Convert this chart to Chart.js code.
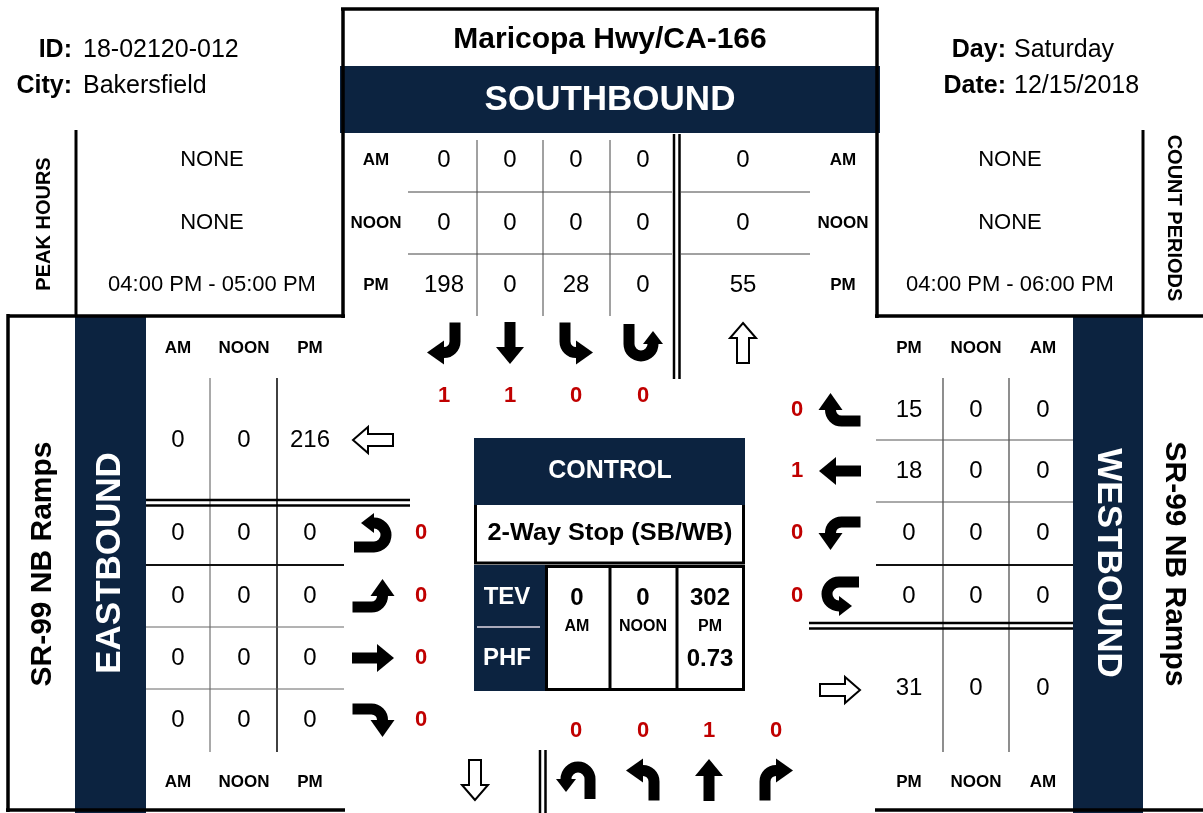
<!DOCTYPE html>
<html>
<head>
<meta charset="utf-8">
<title>Maricopa Hwy/CA-166 - Turning Movement Counts</title>
<script src="https://cdn.jsdelivr.net/npm/chart.js@4.4.1/dist/chart.umd.min.js"></script>
<style>
  html, body { margin: 0; padding: 0; background: #fff; }
  #wrap { width: 1203px; height: 813px; }
</style>
</head>
<body>
<div id="wrap"><canvas id="myChart"></canvas></div>
<script>
var periods = ["AM", "NOON", "PM"];

// southbound approach: right, thru, left, u-turn
var sbAM = [0, 0, 0, 0];
var sbNoon = [0, 0, 0, 0];
var sbPM = [198, 0, 28, 0];
var sbLanes = [1, 1, 0, 0];
var nbDepart = [0, 0, 55];

// eastbound approach: u-turn, left, thru, right
var ebAM = [0, 0, 0, 0];
var ebNoon = [0, 0, 0, 0];
var ebPM = [0, 0, 0, 0];
var ebLanes = [0, 0, 0, 0];
var wbDepart = [0, 0, 216];

// westbound approach: right, thru, left, u-turn
var wbAM = [0, 0, 0, 0];
var wbNoon = [0, 0, 0, 0];
var wbPM = [15, 18, 0, 0];
var wbLanes = [0, 1, 0, 0];
var ebDepart = [0, 0, 31];

// northbound approach: u-turn, left, thru, right
var nbLanes = [0, 0, 1, 0];

var tev = [0, 0, 302];
var phf = ["", "", "0.73"];
var peakHours = ["NONE", "NONE", "04:00 PM - 05:00 PM"];
var countPeriods = ["NONE", "NONE", "04:00 PM - 06:00 PM"];

var NAVY = "#0c2340";
var RED = "#c00000";
var FONT = "'Liberation Sans', Arial, sans-serif";

function B(size) { return "bold " + size + "px " + FONT; }
function R(size) { return size + "px " + FONT; }

var tmcPlugin = {
  id: "tmc",
  afterDraw: function(chart) {
    var ctx = chart.ctx;
    var xs = chart.scales.x, ys = chart.scales.y;
    function X(v) { return xs.getPixelForValue(v); }
    function Y(v) { return ys.getPixelForValue(v); }

    function txt(s, x, y, font, color, align, rot, sx) {
      ctx.save();
      ctx.translate(X(x), Y(y));
      if (rot) ctx.rotate(rot);
      if (sx) ctx.scale(sx, 1);
      ctx.font = font;
      ctx.fillStyle = color || "#000";
      ctx.textAlign = align || "center";
      ctx.textBaseline = "middle";
      ctx.fillText(String(s), 0, 0);
      ctx.restore();
    }
    function line(x1, y1, x2, y2, w, color) {
      ctx.save();
      ctx.beginPath();
      ctx.moveTo(X(x1), Y(y1));
      ctx.lineTo(X(x2), Y(y2));
      ctx.lineWidth = w;
      ctx.strokeStyle = color || "#000";
      ctx.stroke();
      ctx.restore();
    }
    function rect(x1, y1, x2, y2, color) {
      ctx.fillStyle = color;
      ctx.fillRect(X(x1), Y(y1), X(x2) - X(x1), Y(y2) - Y(y1));
    }
    function tri(a, b, c, d, e, f) {
      ctx.beginPath();
      ctx.moveTo(a, b); ctx.lineTo(c, d); ctx.lineTo(e, f);
      ctx.closePath();
      ctx.fill();
    }
    // movement arrow, drawn for a vehicle heading up, then rotated
    function arrow(type, x, y, angle) {
      ctx.save();
      ctx.translate(X(x), Y(y));
      ctx.rotate(angle);
      ctx.fillStyle = "#000";
      ctx.strokeStyle = "#000";
      ctx.lineWidth = 11;
      ctx.lineCap = "butt";
      if (type == "T") {
        ctx.fillRect(-5.5, -4, 11, 25);
        tri(-14, -4, 14, -4, 0, -21);
      } else if (type == "L" || type == "R") {
        if (type == "R") ctx.scale(-1, 1);
        ctx.translate(1, 2.5);
        ctx.beginPath();
        ctx.moveTo(10, 18);
        ctx.lineTo(10, -1);
        ctx.arc(-1, -1, 11, 0, -Math.PI / 2, true);
        ctx.stroke();
        tri(-1, -24, -1, 0, -18, -12);
      } else {
        ctx.translate(2, -1);
        ctx.beginPath();
        ctx.moveTo(12, 20);
        ctx.lineTo(12, 0);
        ctx.arc(0, 0, 12, 0, -Math.PI, true);
        ctx.stroke();
        tri(-22, 0, -2, 0, -12, 13);
      }
      ctx.restore();
    }
    function hollow(x, y, angle) {
      ctx.save();
      ctx.translate(X(x), Y(y));
      ctx.rotate(angle);
      ctx.beginPath();
      ctx.moveTo(0, -20);
      ctx.lineTo(13, -5);
      ctx.lineTo(6, -5);
      ctx.lineTo(6, 20);
      ctx.lineTo(-6, 20);
      ctx.lineTo(-6, -5);
      ctx.lineTo(-13, -5);
      ctx.closePath();
      ctx.fillStyle = "#fff";
      ctx.fill();
      ctx.lineWidth = 2;
      ctx.strokeStyle = "#000";
      ctx.stroke();
      ctx.restore();
    }

    var UP = 0, DOWN = Math.PI, EAST = Math.PI / 2, WEST = -Math.PI / 2;

    // navy bands
    rect(340, 66, 880, 133, NAVY);
    rect(75, 316, 146, 813, NAVY);
    rect(1073, 316, 1143, 813, NAVY);

    // frame
    line(341, 9, 879, 9, 3.5);
    line(343, 8, 343, 318, 3.5);
    line(877, 8, 877, 318, 3.5);
    line(8, 316, 345, 316, 3.5);
    line(875, 316, 1203, 316, 3.5);
    line(8, 314, 8, 812, 3.5);
    line(6, 810, 345, 810, 3.5);
    line(875, 810, 1203, 810, 3.5);
    line(76, 130, 76, 316, 3);
    line(1143, 130, 1143, 316, 3);

    // header
    txt("ID:", 72, 50, B(25), "#000", "right");
    txt("18-02120-012", 83, 50, R(25), "#000", "left");
    txt("City:", 72, 86, B(25), "#000", "right");
    txt("Bakersfield", 83, 86, R(25), "#000", "left");
    txt("Day:", 1006, 50, B(25), "#000", "right");
    txt("Saturday", 1014, 50, R(25), "#000", "left");
    txt("Date:", 1006, 86, B(25), "#000", "right");
    txt("12/15/2018", 1014, 86, R(25), "#000", "left");
    txt("Maricopa Hwy/CA-166", 610, 40, B(30));
    txt("SOUTHBOUND", 610, 100, B(35), "#fff");

    txt("PEAK HOURS", 44, 224, B(20), "#000", "center", -Math.PI / 2);
    txt("COUNT PERIODS", 1174, 218, B(20), "#000", "center", Math.PI / 2);

    var rowY = [160, 223, 285];
    for (var i = 0; i < 3; i++) {
      txt(peakHours[i], 212, rowY[i], R(22));
      txt(countPeriods[i], 1010, rowY[i], R(22));
      txt(periods[i], 376, rowY[i], B(17));
      txt(periods[i], 843, rowY[i], B(17));
    }

    // southbound table
    var sbRows = [sbAM, sbNoon, sbPM];
    var sbX = [444, 510, 576, 643];
    for (var r = 0; r < 3; r++) {
      for (var c = 0; c < 4; c++) txt(sbRows[r][c], sbX[c], rowY[r], R(24));
      txt(nbDepart[r], 743, rowY[r], R(24));
    }
    [477, 543, 610].forEach(function(x) { line(x, 140, x, 316, 1, "#444"); });
    [192, 254].forEach(function(y) {
      line(408, y, 672, y, 1, "#444");
      line(681, y, 810, y, 1, "#444");
    });
    line(674, 134, 674, 379, 2.5);
    line(679.5, 134, 679.5, 379, 2.5);
    var sbTypes = ["R", "T", "L", "U"];
    for (var k = 0; k < 4; k++) {
      arrow(sbTypes[k], sbX[k], 343, DOWN);
      txt(sbLanes[k], sbX[k], 396, B(22), RED);
    }
    hollow(743, 343, UP);

    // eastbound table
    var ebX = [178, 244, 310];
    for (var j = 0; j < 3; j++) {
      txt(periods[j], ebX[j], 348, B(17));
      txt(periods[j], ebX[j], 782, B(17));
      txt(wbDepart[j], ebX[j], 440, R(24));
    }
    var ebY = [533, 596, 658, 720];
    var ebTypes = ["U", "L", "T", "R"];
    for (var m = 0; m < 4; m++) {
      txt(ebAM[m], ebX[0], ebY[m], R(24));
      txt(ebNoon[m], ebX[1], ebY[m], R(24));
      txt(ebPM[m], ebX[2], ebY[m], R(24));
      arrow(ebTypes[m], 373, ebY[m], EAST);
      txt(ebLanes[m], 421, ebY[m], B(22), RED);
    }
    line(210, 378, 210, 752, 1, "#555");
    line(277, 378, 277, 752, 1.6, "#111");
    line(146, 565, 344, 565, 2, "#111");
    line(146, 627, 344, 627, 1, "#666");
    line(146, 689, 344, 689, 1, "#666");
    line(146, 500, 410, 500, 2.5);
    line(146, 505.5, 410, 505.5, 2.5);
    hollow(373, 440, WEST);

    // westbound table (PM, NOON, AM from left)
    var wbX = [909, 976, 1043];
    var wbHead = [periods[2], periods[1], periods[0]];
    for (var n = 0; n < 3; n++) {
      txt(wbHead[n], wbX[n], 348, B(17));
      txt(wbHead[n], wbX[n], 782, B(17));
      txt(ebDepart[2 - n], wbX[n], 688, R(24));
    }
    var wbY = [410, 471, 533, 596];
    var wbTypes = ["R", "T", "L", "U"];
    for (var q = 0; q < 4; q++) {
      txt(wbPM[q], wbX[0], wbY[q], R(24));
      txt(wbNoon[q], wbX[1], wbY[q], R(24));
      txt(wbAM[q], wbX[2], wbY[q], R(24));
      arrow(wbTypes[q], 840, wbY[q], WEST);
      txt(wbLanes[q], 797, wbY[q], B(22), RED);
    }
    line(943, 378, 943, 752, 1.2, "#444");
    line(1009, 378, 1009, 752, 1.2, "#444");
    line(876, 440, 1073, 440, 1, "#555");
    line(876, 502, 1073, 502, 1, "#555");
    line(876, 565, 1073, 565, 2, "#111");
    line(809, 623, 1073, 623, 2.5);
    line(809, 628.5, 1073, 628.5, 2.5);
    hollow(840, 690, EAST);

    // northbound approach
    var nbX = [576, 643, 709, 776];
    var nbTypes = ["U", "L", "T", "R"];
    for (var p = 0; p < 4; p++) {
      arrow(nbTypes[p], nbX[p], 780, UP);
      txt(nbLanes[p], nbX[p], 731, B(22), RED);
    }
    line(540, 750, 540, 813, 2.5);
    line(545.5, 750, 545.5, 813, 2.5);
    hollow(475, 780, DOWN);

    // control box
    rect(474, 438, 745, 505, NAVY);
    txt("CONTROL", 610, 471, B(25), "#fff");
    line(475.5, 505, 475.5, 563, 3);
    line(743.5, 505, 743.5, 563, 3);
    line(474, 563, 745, 563, 3);
    txt("2-Way Stop (SB/WB)", 610, 534, B(23), "#000", "center", 0, 1.1);
    rect(474, 565, 547, 691, NAVY);
    line(477, 627, 540, 627, 2, "#aab");
    txt("TEV", 507, 597, B(24), "#fff");
    txt("PHF", 507, 658, B(24), "#fff");
    ctx.save();
    ctx.lineWidth = 3;
    ctx.strokeStyle = "#000";
    ctx.strokeRect(X(546.5), Y(566.5), X(743.5) - X(546.5), Y(689.5) - Y(566.5));
    ctx.restore();
    line(610, 566, 610, 690, 3);
    line(677, 566, 677, 690, 3);
    var cellX = [577, 643, 710];
    for (var t = 0; t < 3; t++) {
      txt(tev[t], cellX[t], 598, B(24));
      txt(periods[t], cellX[t], 627, B(16));
      if (phf[t]) txt(phf[t], cellX[t], 659, B(24));
    }

    // street names
    txt("SR-99 NB Ramps", 43, 564, B(30), "#000", "center", -Math.PI / 2);
    txt("EASTBOUND", 110, 563, B(35), "#fff", "center", -Math.PI / 2);
    txt("WESTBOUND", 1108, 563, B(35), "#fff", "center", Math.PI / 2);
    txt("SR-99 NB Ramps", 1174, 564, B(30), "#000", "center", Math.PI / 2);
  }
};

function init() {
  var ctx = document.getElementById("myChart").getContext("2d");
  new Chart(ctx, {
    type: "scatter",
    data: { datasets: [] },
    options: {
      responsive: true,
      maintainAspectRatio: false,
      animation: false,
      layout: { padding: 0 },
      scales: {
        x: { type: "linear", min: 0, max: 1203, display: false },
        y: { type: "linear", min: 0, max: 813, reverse: true, display: false }
      },
      plugins: { legend: { display: false }, tooltip: { enabled: false } }
    },
    plugins: [tmcPlugin]
  });
}

init();
</script>
</body>
</html>
